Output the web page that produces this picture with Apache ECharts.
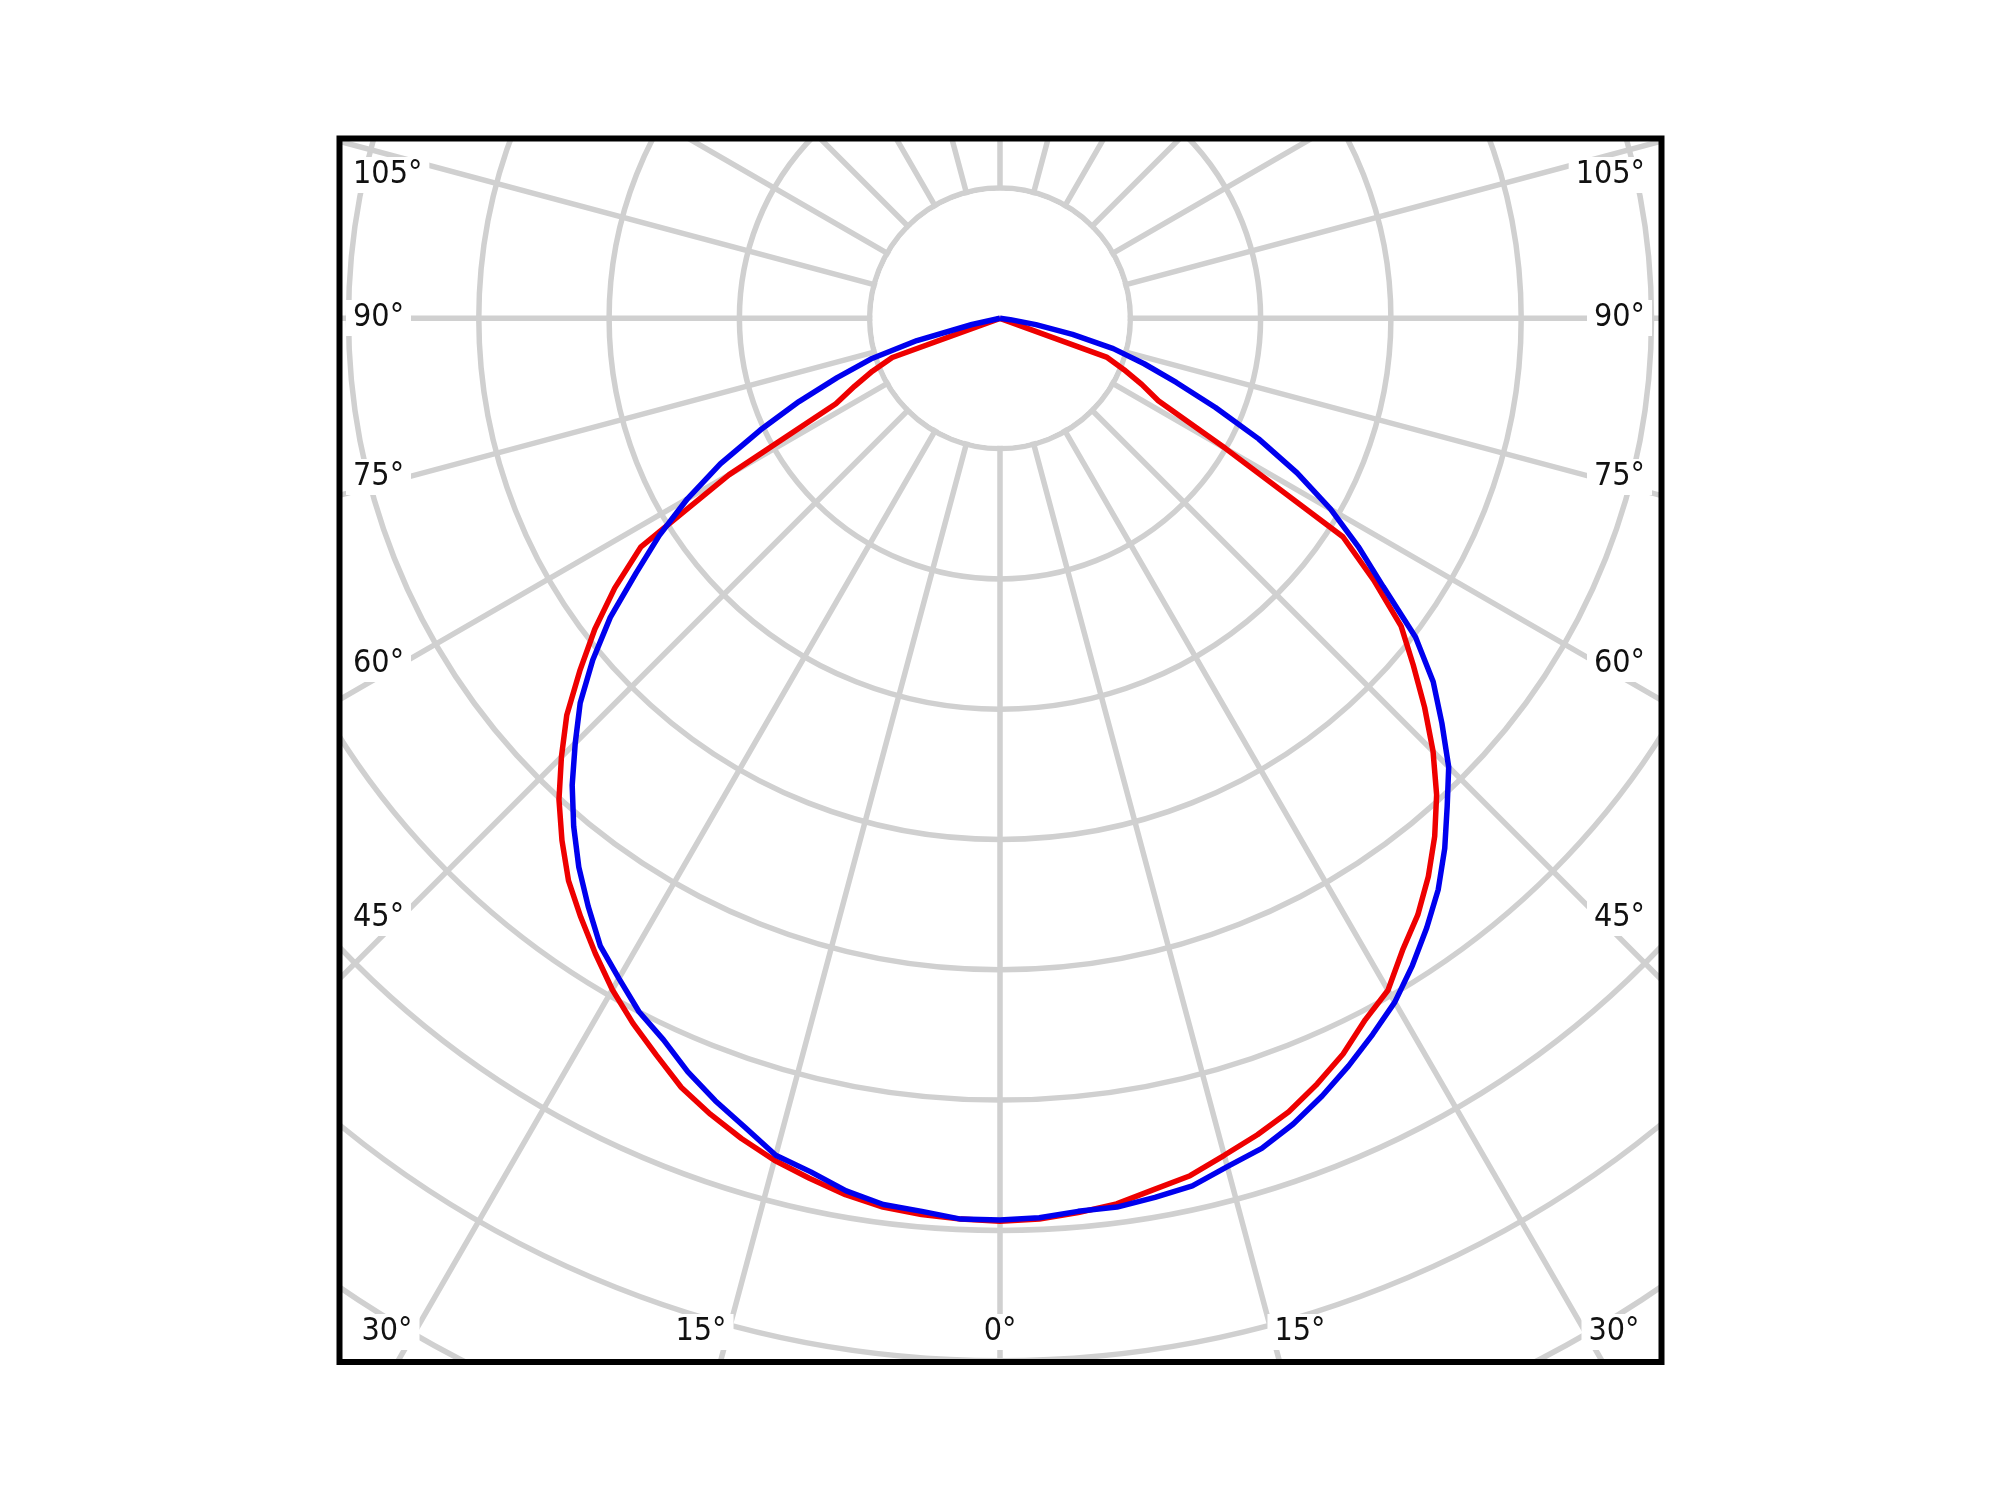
<!DOCTYPE html>
<html>
<head>
<meta charset="utf-8">
<title>Light distribution curve</title>
<script src="https://cdn.jsdelivr.net/npm/echarts@6/dist/echarts.min.js"></script>
<style>
  html, body { margin: 0; padding: 0; background: #fff; }
  #chart { width: 2000px; height: 1500px; }
</style>
</head>
<body>
<div id="chart"></div>
<script>
// gamma angle from nadir, deg (same for every half plane)
const angles = [0, 2.5, 5, 7.5, 10, 12.5, 15, 17.5, 20, 22.5, 25, 27.5, 30, 32.5, 35, 37.5, 40, 42.5,
  45, 47.5, 50, 52.5, 55, 57.5, 60, 62.5, 65, 67.5, 70, 72.5, 75, 77.5, 80, 82.5, 85, 87.5, 90]

// intensity, in grid rings
const redLeft = [6.93, 6.92, 6.905, 6.88, 6.83, 6.76, 6.69, 6.60, 6.50, 6.39, 6.24, 6.10, 5.95, 5.78, 5.61, 5.44, 5.23, 5.01,
  4.76, 4.51, 4.21, 3.92, 3.61, 3.27, 2.40, 1.42, 1.23, 1.06, 0.88, 0, 0, 0, 0, 0, 0, 0, 0]
const redRight = [6.93, 6.92, 6.89, 6.855, 6.79, 6.74, 6.65, 6.57, 6.48, 6.36, 6.23, 6.07, 5.955, 5.75, 5.59, 5.40, 5.19, 4.96,
  4.70, 4.42, 4.14, 3.88, 3.50, 3.12, 2.00, 1.37, 1.20, 1.03, 0.87, 0, 0, 0, 0, 0, 0, 0, 0]
const blueLeft = [6.92, 6.92, 6.88, 6.86, 6.80, 6.71, 6.65, 6.51, 6.39, 6.26, 6.11, 6.00, 5.85, 5.71, 5.51, 5.31, 5.09, 4.86,
  4.61, 4.37, 4.08, 3.77, 3.41, 3.10, 2.77, 2.42, 2.03, 1.67, 1.33, 1.04, 0.66, 0.22, 0, 0, 0, 0, 0]
const blueRight = [6.92, 6.91, 6.88, 6.88, 6.85, 6.82, 6.74, 6.68, 6.58, 6.46, 6.33, 6.195, 6.06, 5.89, 5.71, 5.525, 5.31, 5.08,
  4.87, 4.60, 4.34, 4.02, 3.59, 3.26, 2.93, 2.57, 2.19, 1.79, 1.44, 1.16, 0.90, 0.57, 0.28, 0.08, 0, 0, 0]

const sideLabels = ['105°', '90°', '75°', '60°', '45°']
const bottomLabels = ['30°', '15°', '0°', '15°', '30°']

// layout
const CX = 1000, CY = 318.3, RING = 130.3, RINGS = 10
const BOX = { x: 339.5, y: 138.5, w: 1322, h: 1223.5 }
const sideY = [175, 318, 477, 664, 918]
const bottomX = [387, 701, 1000, 1300, 1614]
const BOTTOM_Y = 1332
const GRID = '#d0d0d0'
const GRID_W = 5.5
const CURVE_W = 5.5
const FONT = '32px "DejaVu Sans Condensed", "DejaVu Sans", sans-serif'

// right half goes to negative angles, left half positive
function curve(left, right) {
  const pts = []
  for (let i = angles.length - 1; i >= 0; i--) pts.push([right[i], -angles[i]])
  for (let i = 0; i < angles.length; i++) pts.push([left[i], angles[i]])
  return pts
}

function label(text, x, y, align) {
  return {
    type: 'text',
    z: 7,
    style: {
      text: text, x: x, y: y, font: FONT, fill: '#111',
      align: align, verticalAlign: 'middle',
      backgroundColor: '#fff', padding: [2, 7]
    }
  }
}

const elements = [
  // no radial lines inside the first ring
  { type: 'circle', z: 1, shape: { cx: CX, cy: CY, r: RING - GRID_W / 2 }, style: { fill: '#fff' } },
  // mask everything outside the frame
  { type: 'rect', z: 5, shape: { x: 0, y: 0, width: 2000, height: BOX.y }, style: { fill: '#fff' } },
  { type: 'rect', z: 5, shape: { x: 0, y: BOX.y + BOX.h, width: 2000, height: 1500 }, style: { fill: '#fff' } },
  { type: 'rect', z: 5, shape: { x: 0, y: 0, width: BOX.x, height: 1500 }, style: { fill: '#fff' } },
  { type: 'rect', z: 5, shape: { x: BOX.x + BOX.w, y: 0, width: 2000, height: 1500 }, style: { fill: '#fff' } },
  { type: 'rect', z: 6, shape: { x: BOX.x, y: BOX.y, width: BOX.w, height: BOX.h }, style: { fill: 'transparent', stroke: '#000', lineWidth: 6 } }
]
sideLabels.forEach((t, i) => {
  elements.push(label(t, 346, sideY[i], 'left'))
  elements.push(label(t, 1652, sideY[i], 'right'))
})
bottomLabels.forEach((t, i) => {
  elements.push(label(t, bottomX[i], BOTTOM_Y, 'center'))
})

const chart = echarts.init(document.getElementById('chart'))
chart.setOption({
  backgroundColor: '#fff',
  animation: false,
  polar: { center: [CX, CY], radius: RING * RINGS },
  angleAxis: {
    type: 'value',
    min: -180,
    max: 180,
    interval: 15,
    startAngle: 90,
    clockwise: true,
    z: 0,
    axisLine: { show: false },
    axisTick: { show: false },
    axisLabel: { show: false },
    splitLine: { show: true, lineStyle: { color: GRID, width: GRID_W } }
  },
  radiusAxis: {
    type: 'value',
    min: 0,
    max: RINGS,
    interval: 1,
    z: 0,
    axisLine: { show: false },
    axisTick: { show: false },
    axisLabel: { show: false },
    splitLine: { show: true, lineStyle: { color: GRID, width: GRID_W } }
  },
  series: [
    {
      name: 'C0-C180',
      type: 'line',
      coordinateSystem: 'polar',
      data: curve(redLeft, redRight),
      symbol: 'none',
      z: 3,
      lineStyle: { color: '#ee0000', width: CURVE_W }
    },
    {
      name: 'C90-C270',
      type: 'line',
      coordinateSystem: 'polar',
      data: curve(blueLeft, blueRight),
      symbol: 'none',
      z: 4,
      lineStyle: { color: '#0000ee', width: CURVE_W }
    }
  ],
  graphic: { elements: elements }
})

window.addEventListener('resize', () => { chart.resize() })
</script>
</body>
</html>
